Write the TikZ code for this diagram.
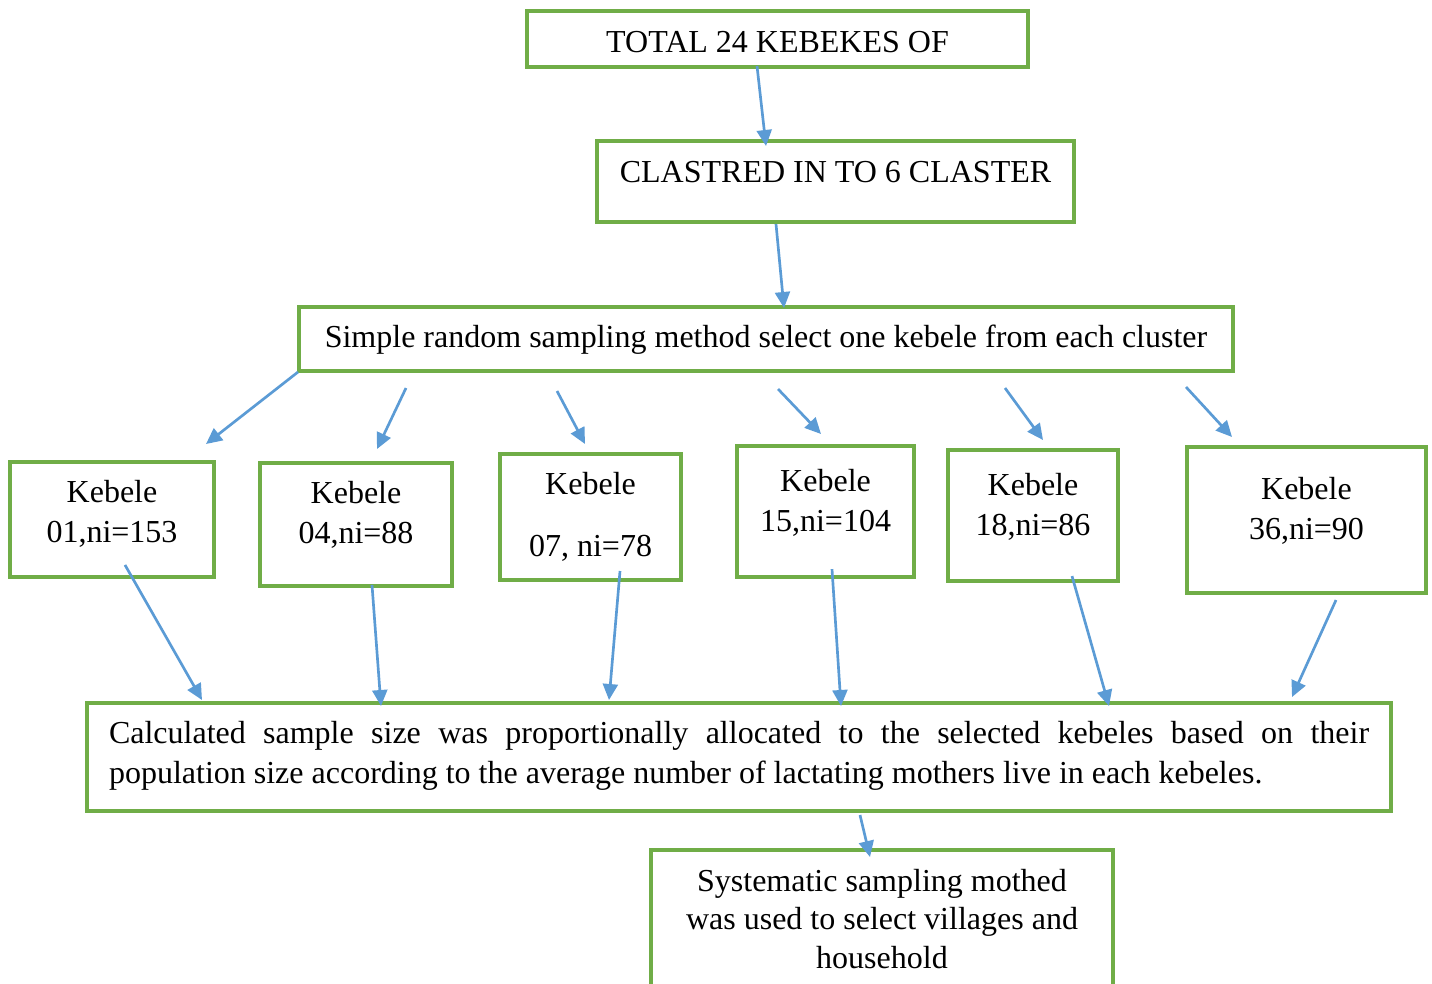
\documentclass[tikz,border=0pt]{standalone}
\usepackage{fontspec}
\setmainfont{Liberation Serif}
\usepackage{tikz}
\usetikzlibrary{arrows.meta}
\definecolor{boxgreen}{HTML}{70AD47}
\definecolor{arrowblue}{HTML}{5B9BD5}

\begin{document}
\begin{tikzpicture}[
  x=0.375pt, y=-0.375pt,
  box/.style={draw=boxgreen, line width=1.2pt, anchor=north west, inner sep=0pt,
              outer sep=0pt, align=center, font=\fontsize{12}{15}\selectfont},
  arrow/.style={-{Triangle[length=6pt,width=5.6pt]}, draw=arrowblue, line width=1pt}
]
\useasboundingbox (0,0) rectangle (1432,983);

\node[box, minimum width=187.9pt, text height=15.4pt, text depth=5.6pt] (total) at (527,11) {TOTAL 24 KEBEKES OF};
\node[box, minimum width=178.9pt, text height=15.4pt, text depth=15pt] (clust) at (597,141) {CLASTRED IN TO 6 CLASTER};
\node[box, minimum width=350.25pt, text height=15pt, text depth=9pt] (srs) at (299,307)
  {Simple random sampling method select one kebele from each cluster};

\node[box, minimum width=76.5pt, text height=30pt, text depth=13.1pt] (k01) at (10,462) {Kebele\\01,ni=153};
\node[box, minimum width=72pt, text height=30pt, text depth=16.1pt] (k04) at (260,463) {Kebele\\04,ni=88};
\node[box, minimum width=67.9pt, text height=38.25pt, text depth=9pt] (k07) at (500,454) {Kebele\\[8.25pt]07, ni=78};
\node[box, minimum width=66.4pt, text height=31.9pt, text depth=17.25pt] (k15) at (737,446) {Kebele\\15,ni=104};
\node[box, minimum width=63.75pt, text height=31.9pt, text depth=17.25pt] (k18) at (948,450) {Kebele\\18,ni=86};
\node[box, minimum width=89.6pt, text height=34.5pt, text depth=20.25pt] (k36) at (1187,447) {Kebele\\36,ni=90};

\node[box, minimum width=489pt, text width=472.5pt, align=justify, text height=15pt, text depth=25.5pt] (calc) at (87,703)
  {Calculated sample size was proportionally allocated to the selected kebeles based on their\linebreak
   population size according to the average number of lactating mothers live in each kebeles.};
\node[box, minimum width=173.25pt, text height=44.25pt, text depth=12pt, font=\fontsize{12}{14.3}\selectfont] (syst) at (651,850)
  {Systematic sampling mothed\\was used to select villages and\\household};

\draw[arrow] ([shift={(230,-1)}]total.south west) -- ([shift={(169,5)}]clust.north west);
\draw[arrow] ([shift={(179,2)}]clust.south west) -- ([shift={(485,1)}]srs.north west);

\draw[arrow] ([shift={(-1,1)}]srs.south west) -- ([shift={(196,-18)}]k01.north west);
\draw[arrow] ([shift={(107,17)}]srs.south west) -- ([shift={(117,-14)}]k04.north west);
\draw[arrow] ([shift={(258,20)}]srs.south west) -- ([shift={(85,-10)}]k07.north west);
\draw[arrow] ([shift={(479,18)}]srs.south west) -- ([shift={(84,-12)}]k15.north west);
\draw[arrow] ([shift={(706,17)}]srs.south west) -- ([shift={(95,-10)}]k18.north west);
\draw[arrow] ([shift={(887,16)}]srs.south west) -- ([shift={(45,-10)}]k36.north west);

\draw[arrow] ([shift={(115,-12)}]k01.south west) -- ([shift={(115,-3)}]calc.north west);
\draw[arrow] ([shift={(112,-1)}]k04.south west) -- ([shift={(294,3)}]calc.north west);
\draw[arrow] ([shift={(120,-9)}]k07.south west) -- ([shift={(522,-3)}]calc.north west);
\draw[arrow] ([shift={(95,-8)}]k15.south west) -- ([shift={(754,3)}]calc.north west);
\draw[arrow] ([shift={(124,-5)}]k18.south west) -- ([shift={(1022,3)}]calc.north west);
\draw[arrow] ([shift={(149,7)}]k36.south west) -- ([shift={(1205,-6)}]calc.north west);

\draw[arrow] ([shift={(773,4)}]calc.south west) -- ([shift={(219,7)}]syst.north west);
\end{tikzpicture}
\end{document}
